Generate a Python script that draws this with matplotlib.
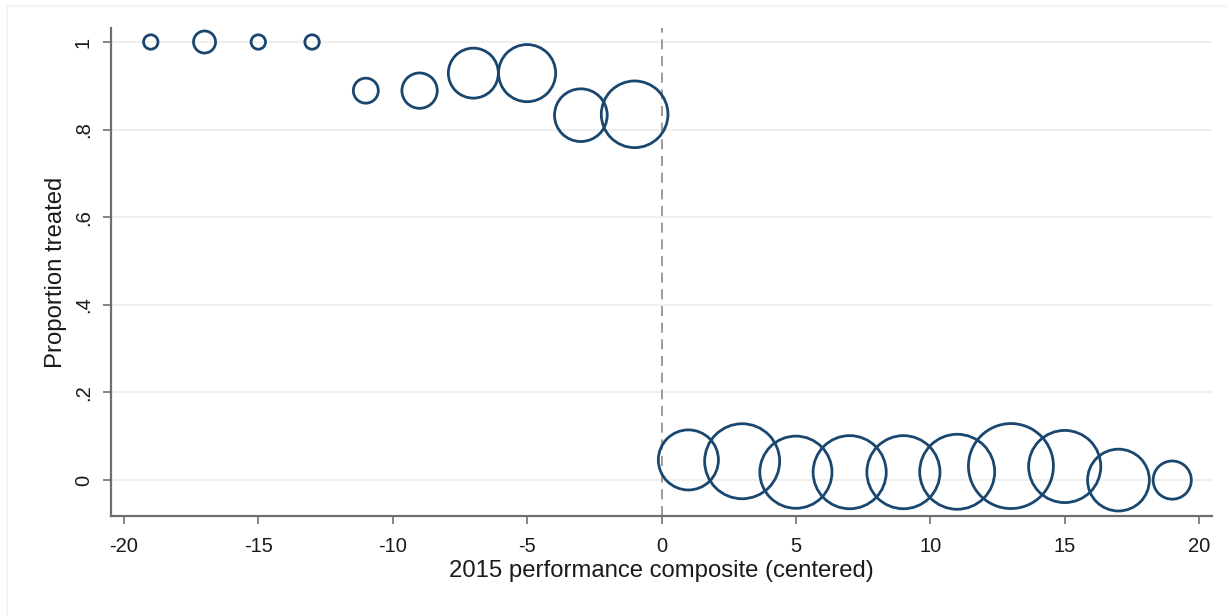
import matplotlib
matplotlib.use("Agg")
import matplotlib.pyplot as plt
from matplotlib.lines import Line2D

# Bin midpoints of the centered 2015 performance composite
bin_mid = [-19, -17, -15, -13, -11, -9, -7, -5, -3, -1,
           1, 3, 5, 7, 9, 11, 13, 15, 17, 19]
# Share of schools treated in each bin
prop_treated = [1.0, 1.0, 1.0, 1.0, 0.889, 0.889, 0.929, 0.929, 0.833, 0.835,
                0.046, 0.043, 0.018, 0.018, 0.018, 0.019, 0.032, 0.031, 0.0, 0.0]
# Number of schools in each bin (bubble weight)
n_schools = [3, 7, 3, 3, 9, 18, 36, 47, 40, 64,
             52, 81, 75, 77, 77, 81, 104, 75, 55, 21]

x_ticks = [-20, -15, -10, -5, 0, 5, 10, 15, 20]
y_ticks = [0, 0.2, 0.4, 0.6, 0.8, 1.0]
y_tick_labels = ["0", ".2", ".4", ".6", ".8", "1"]

navy = "#1a476f"
axis_grey = "#6e6e6e"

plt.rcParams["font.family"] = ["Liberation Sans", "DejaVu Sans"]

fig = plt.figure(figsize=(12.27, 6.16), dpi=100)
fig.patch.set_facecolor("white")

# faint outer graph-region frame
fig.add_artist(Line2D([7 / 1227, 1.0], [1 - 6 / 616, 1 - 6 / 616],
                      transform=fig.transFigure, color="#f3f3f3", lw=1.2))
fig.add_artist(Line2D([7 / 1227, 7 / 1227], [0.0, 1 - 6 / 616],
                      transform=fig.transFigure, color="#f3f3f3", lw=1.2))

ax = fig.add_axes([111 / 1227, 100 / 616, (1212 - 111) / 1227, (516 - 28) / 616])

ax.scatter(bin_mid, prop_treated, s=[36 * n for n in n_schools],
           facecolors="none", edgecolors=navy, linewidths=2.0, zorder=3)

ax.axvline(0, color="#8a8a8a", lw=1.2, ls=(0, (6, 4)), zorder=2)

ax.set_xlim(-20.48, 20.48)
ax.set_ylim(-0.082, 1.032)

ax.set_xticks(x_ticks)
ax.set_xticklabels([str(t) for t in x_ticks])
ax.set_yticks(y_ticks)
ax.set_yticklabels(y_tick_labels, rotation=90, va="center")

ax.yaxis.grid(True, color="#efefef", lw=1.5, zorder=0)
ax.set_axisbelow(True)

for side in ("top", "right"):
    ax.spines[side].set_visible(False)
for side in ("left", "bottom"):
    ax.spines[side].set_color(axis_grey)
    ax.spines[side].set_linewidth(1.6)

ax.tick_params(axis="both", direction="out", length=6, width=1.2,
               color=axis_grey, labelsize=14.5, labelcolor="#1a1a1a")
ax.tick_params(axis="x", pad=9)
ax.tick_params(axis="y", pad=7)

ax.set_xlabel("2015 performance composite (centered)", fontsize=17.2,
              color="#1a1a1a", labelpad=3)
ax.set_ylabel("Proportion treated", fontsize=17.2, color="#1a1a1a", labelpad=5)

fig.savefig("out.png", dpi=100, facecolor="white")
